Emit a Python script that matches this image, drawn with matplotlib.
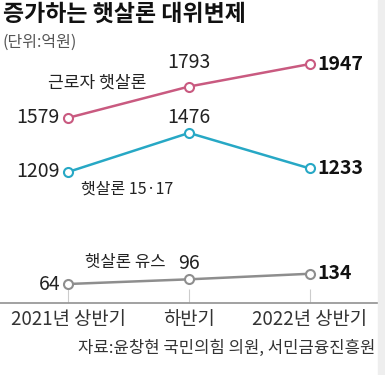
import matplotlib
matplotlib.use('Agg')
import matplotlib.pyplot as plt
from matplotlib.patches import Rectangle

plt.rcParams['font.family'] = ['Noto Sans CJK KR', 'DejaVu Sans']

# --- 데이터 ---
periods = ['2021년 상반기', '하반기', '2022년 상반기']
worker = [1579, 1793, 1947]      # 근로자 햇살론
loan1517 = [1209, 1476, 1233]    # 햇살론 15·17
youth = [64, 96, 134]            # 햇살론 유스

PINK = '#c95a80'
BLUE = '#27a8c5'
GRAY = '#8e8e8e'
TXT = '#222222'

W, H = 385, 375
fig = plt.figure(figsize=(W / 100, H / 100), dpi=100)
fig.patches.append(Rectangle((378 / W, 0), 7 / W, 1, transform=fig.transFigure,
                             color='#eeeeee', zorder=0))

# 픽셀 기준 배치: x 0 -> 68px, 2 -> 310px, 축선 303px
x = list(range(len(periods)))
xlim = (-68 / 121, 310 / 121)
scale = 108 / (1947 - 1209)  # px per 억원


def px_axes(top_px, bottom_px):
    return fig.add_axes([0, 1 - bottom_px / H, 378 / W, (bottom_px - top_px) / H])


# 위쪽 (근로자 햇살론, 햇살론 15·17)
ax1 = px_axes(64, 172)
ax1.set_xlim(*xlim)
ax1.set_ylim(1209, 1947)
ax1.axis('off')

# 아래쪽 (햇살론 유스) - 끊어진 축
ax2 = px_axes(230, 303)
ax2.set_xlim(*xlim)
ybot = 64 - 19 / scale
ax2.set_ylim(ybot, ybot + 73 / scale)
for s in ['top', 'left', 'right']:
    ax2.spines[s].set_visible(False)
ax2.spines['bottom'].set_color('#9a9a9a')
ax2.spines['bottom'].set_linewidth(1.3)
ax2.set_yticks([])
ax2.set_xticks(x)
ax2.set_xticklabels(periods, fontsize=13.5, color='#333333')
ax2.tick_params(axis='x', direction='in', length=10, width=0.8, color='#cccccc', pad=4)

line_kw = dict(lw=1.8, marker='o', markersize=6.5, markerfacecolor='white',
               markeredgewidth=1.5, clip_on=False, zorder=3)
ax1.plot(x, worker, color=PINK, **line_kw)
ax1.plot(x, loan1517, color=BLUE, **line_kw)
ax2.plot(x, youth, color=GRAY, **line_kw)


def label_points(ax, vals, mid_gap):
    ax.annotate(f'{vals[0]}', (x[0], vals[0]), xytext=(-8, 0), textcoords='offset pixels',
                ha='right', va='center', fontsize=14, color=TXT)
    ax.annotate(f'{vals[1]}', (x[1], vals[1]), xytext=(0, mid_gap), textcoords='offset pixels',
                ha='center', va='bottom', fontsize=14, color=TXT)
    ax.annotate(f'{vals[2]}', (x[2], vals[2]), xytext=(7, 0), textcoords='offset pixels',
                ha='left', va='center', fontsize=14, color='#111111', fontweight='bold')


label_points(ax1, worker, 14)
label_points(ax1, loan1517, 5)
label_points(ax2, youth, 5)

# 시리즈 이름
ax1.text(0.24, 1947 - 19 / scale, '근로자 햇살론', ha='center', va='center', fontsize=12.3, color=TXT)
ax1.text(0.49, 1209 - 17 / scale, '햇살론 15·17', ha='center', va='center', fontsize=11.5, color=TXT)
ax2.text(0.47, 64 + 21 / scale, '햇살론 유스', ha='center', va='center', fontsize=12, color=TXT)

# 제목, 단위, 출처
fig.text(3 / W, 1 - 14 / H, '증가하는 햇살론 대위변제', fontsize=16.5, fontweight='bold',
         ha='left', va='center', color='#111111')
fig.text(3 / W, 1 - 42 / H, '(단위:억원)', fontsize=11.5, ha='left', va='center', color='#555555')
fig.text(375 / W, 1 - 348 / H, '자료:윤창현 국민의힘 의원, 서민금융진흥원', fontsize=12,
         ha='right', va='center', color='#333333')

fig.savefig('out.png', dpi=100, facecolor='white')
